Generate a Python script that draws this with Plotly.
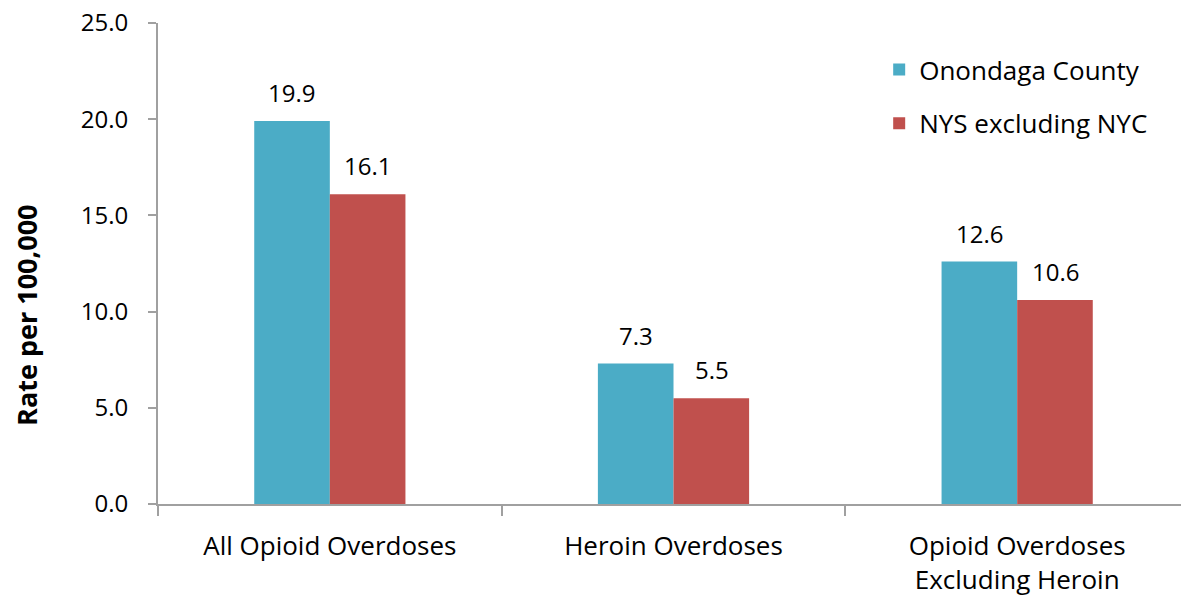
import plotly.graph_objects as go

categories = ["All Opioid Overdoses", "Heroin Overdoses", "Opioid Overdoses<br>Excluding Heroin"]
onondaga = [19.9, 7.3, 12.6]
nys_excl_nyc = [16.1, 5.5, 10.6]
y_ticks = [0, 5, 10, 15, 20, 25]

FONT = "Open Sans"
BLUE = "#4BACC6"
RED = "#C0504D"
AXIS = "#A0A0A0"

# page body has an 8px margin, so the figure is drawn 8px smaller
fig = go.Figure()
fig.add_trace(go.Bar(x=categories, y=onondaga, name="Onondaga County",
                     marker=dict(color=BLUE, line=dict(width=0)), legendgroup="a"))
fig.add_trace(go.Bar(x=categories, y=nys_excl_nyc, name="NYS excluding NYC",
                     marker=dict(color=RED, line=dict(width=0)), legendgroup="b"))

# value labels above each bar
for cat, a, b in zip(categories, onondaga, nys_excl_nyc):
    for val, shift in ((a, -38), (b, 38)):
        fig.add_annotation(x=cat, y=val, text=f"{val:.1f}", showarrow=False,
                           xshift=shift, yshift=10, yanchor="bottom",
                           font=dict(family=FONT, size=24, color="#000"))

fig.add_annotation(text="<b>Rate per 100,000</b>", xref="paper", yref="paper",
                   x=-0.147, y=0.393, textangle=-90, showarrow=False,
                   font=dict(family=FONT, size=27, color="#000"))

fig.update_layout(
    width=1181, height=590,
    barmode="group", bargap=0.56, bargroupgap=0,
    paper_bgcolor="white", plot_bgcolor="white",
    margin=dict(l=150, r=0, t=15, b=94),
    font=dict(family=FONT, size=26, color="#000"),
    legend=dict(x=0.6995, y=0.952, xanchor="left", yanchor="top",
                traceorder="grouped", tracegroupgap=17,
                font=dict(family=FONT, size=26, color="#000"),
                itemwidth=30, bgcolor="rgba(0,0,0,0)"),
)

fig.update_xaxes(showline=True, linecolor=AXIS, linewidth=2, ticks="outside",
                 tickson="boundaries", ticklen=10, tickcolor=AXIS, tickwidth=2,
                 ticklabelstandoff=18, showgrid=False, automargin=False)
fig.update_yaxes(range=[0, 25], tickvals=y_ticks, tickformat=".1f",
                 tickfont=dict(size=24), ticklabeloverflow="allow", automargin=False,
                 showline=True, linecolor=AXIS, linewidth=2, ticks="outside",
                 ticklen=8, tickcolor=AXIS, tickwidth=2, showgrid=False,
                 zeroline=False, ticklabelstandoff=15)

fig.write_html("out.html")
